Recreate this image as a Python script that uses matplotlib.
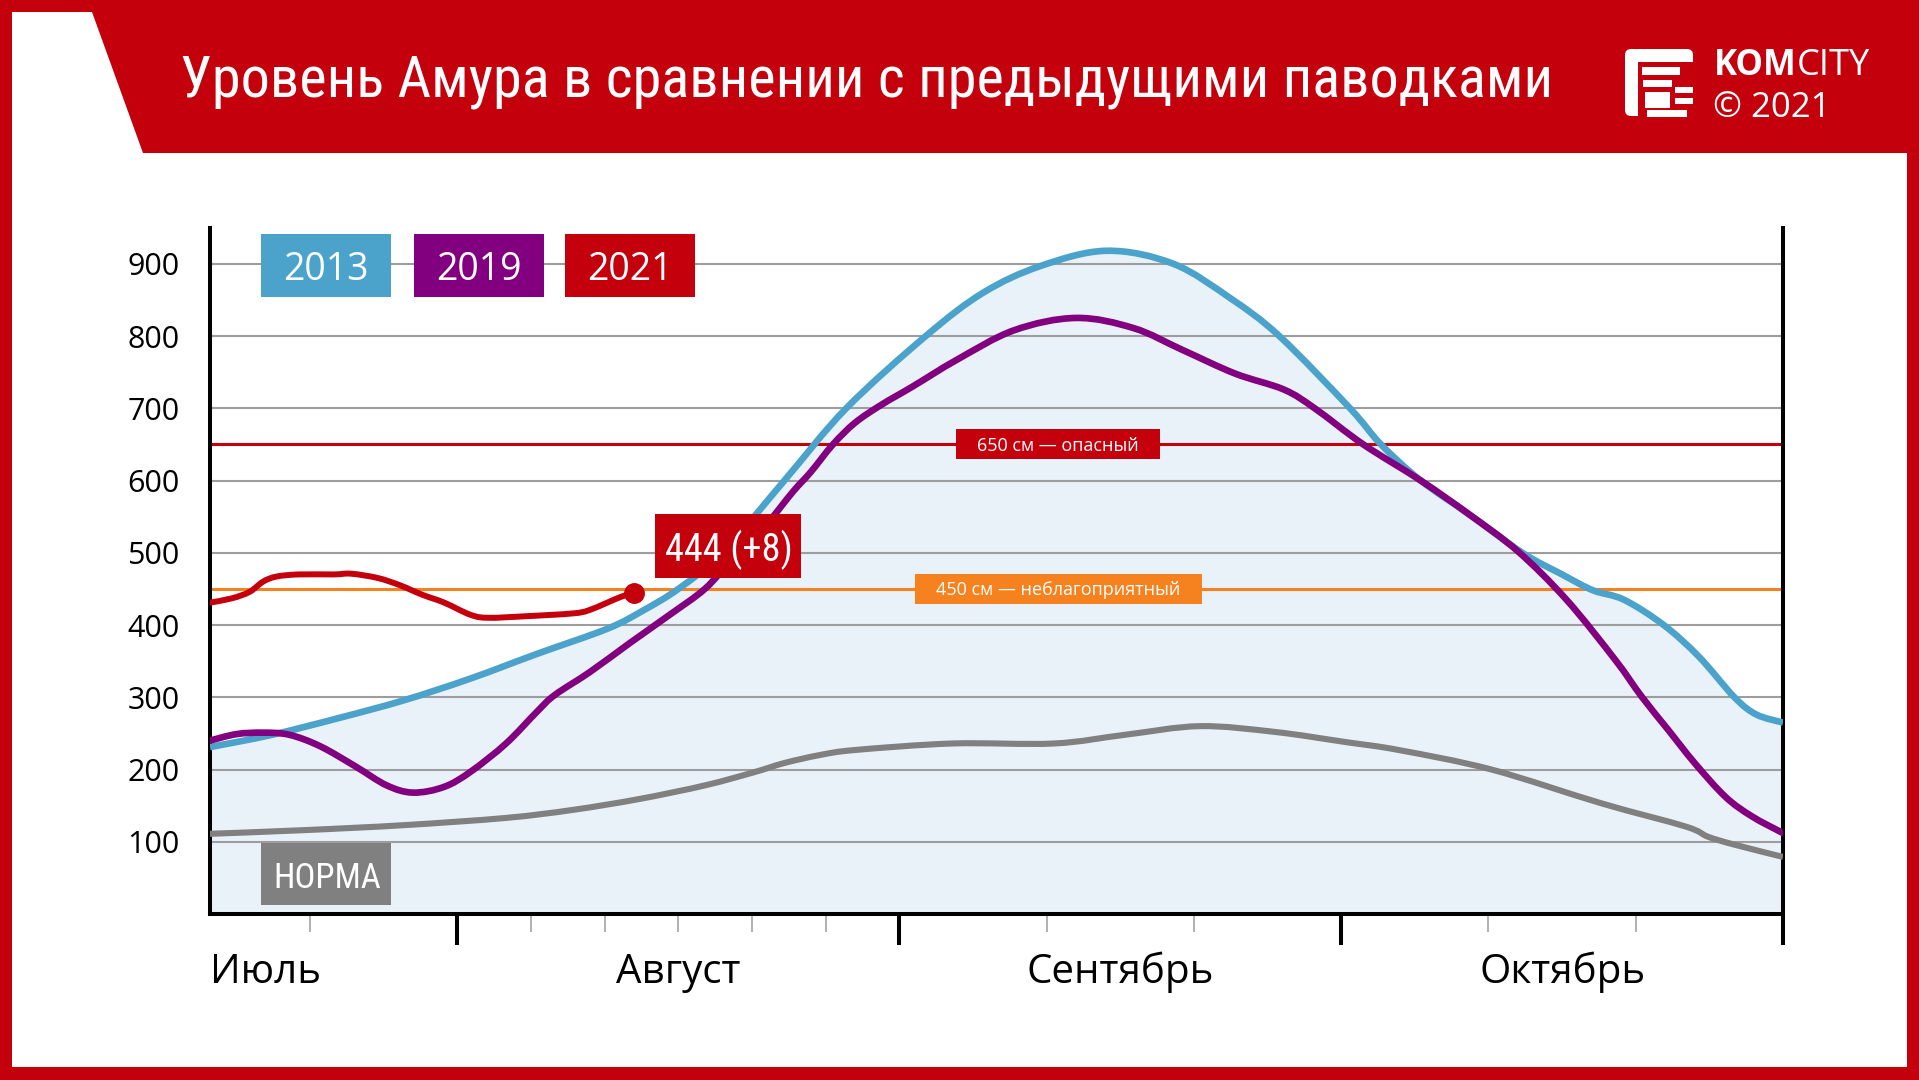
import matplotlib
matplotlib.use('Agg')
import numpy as np
import matplotlib.pyplot as plt
from matplotlib.patches import Polygon, Rectangle, FancyBboxPatch, PathPatch
from matplotlib.path import Path

W, H, DPI = 1919, 1080, 100

# ---------------- data ----------------
title = "Уровень Амура в сравнении с предыдущими паводками"
months = ["Июль", "Август", "Сентябрь", "Октябрь"]
month_ticks = [1, 2, 3, 4]                       # 1 = 1 Aug, 2 = 1 Sep, 3 = 1 Oct, 4 = 1 Nov
minor_ticks = [0.6667, 1.1667, 1.3333, 1.5, 1.6667, 1.8333, 2.3333, 2.6667, 3.3333, 3.6667]
yticks = [100, 200, 300, 400, 500, 600, 700, 800, 900]

series_names = ["2013", "2019", "2021"]
norm_name = "НОРМА"

x2013 = [0.44, 0.58, 0.73, 0.88, 1.03, 1.18, 1.34, 1.42, 1.50, 1.60, 1.74, 1.88, 2.06, 2.19, 2.32,
         2.47, 2.62, 2.75, 2.86, 3.02, 3.09, 3.18, 3.29, 3.41, 3.50, 3.57, 3.64, 3.73, 3.81, 3.89,
         3.94, 4.00]
y2013 = [231, 248, 271, 296, 326, 360, 395, 420, 450, 500, 600, 700, 800, 860, 897,
         918, 900, 852, 800, 700, 650, 600, 553, 500, 470, 448, 435, 400, 356, 300,
         276, 265]

x2019 = [0.44, 0.50, 0.56, 0.62, 0.69, 0.77, 0.84, 0.90, 0.97, 1.03, 1.11, 1.18, 1.22, 1.30, 1.39,
         1.48, 1.56, 1.62, 1.70, 1.76, 1.80, 1.85, 1.90, 1.96, 2.03, 2.13, 2.26, 2.40, 2.53, 2.64,
         2.76, 2.87, 2.94, 3.05, 3.18, 3.29, 3.40, 3.51, 3.62, 3.68, 3.74, 3.80, 3.87, 3.93, 4.00]
y2019 = [240, 249, 251, 248, 232, 204, 178, 168, 176, 197, 236, 280, 303, 335, 375,
         414, 450, 490, 540, 585, 612, 650, 680, 705, 730, 767, 808, 825, 811, 781,
         748, 726, 700, 650, 600, 553, 502, 435, 352, 301, 255, 209, 162, 135, 112]

x2021 = [0.44, 0.49, 0.53, 0.56, 0.59, 0.64, 0.72, 0.76, 0.82, 0.87, 0.92, 0.97, 1.03, 1.07,
         1.15, 1.26, 1.30, 1.37, 1.40]
y2021 = [431, 437, 446, 460, 467, 470, 470, 471, 465, 455, 442, 431, 414, 410,
         412, 416, 421, 439, 444]

x_norm = [0.44, 0.65, 0.88, 1.11, 1.26, 1.41, 1.56, 1.67, 1.74, 1.82, 1.90, 2.12, 2.35, 2.51, 2.68,
          2.85, 3.01, 3.13, 3.34, 3.59, 3.78, 3.83, 3.89, 4.00]
y_norm = [111, 116, 123, 133, 144, 159, 178, 196, 209, 220, 227, 236, 236, 248, 260,
          252, 238, 227, 200, 153, 121, 107, 96, 79]

last_label = "444 (+8)"
thresholds = [650, 450]
threshold_labels = ["650 см — опасный", "450 см — неблагоприятный"]

# ---------------- styles ----------------
RED = '#c3000c'
BLUE = '#4ba3cc'
PURPLE = '#82007f'
ORANGE = '#f5821f'
GRAY = '#808080'
FILL = '#eaf2f9'
GRID = '#9d9d9d'
NARROW = ['Roboto Condensed', 'Liberation Sans Narrow', 'DejaVu Sans']
SANS = ['Open Sans', 'DejaVu Sans']


def smooth_path(xs, ys, base=None):
    """Cubic Catmull-Rom path through the given points (drawn in data coords)."""
    P = np.column_stack([xs, ys]).astype(float)
    n = len(P)
    verts = [P[0]]
    codes = [Path.MOVETO]
    for i in range(n - 1):
        p0 = P[i - 1] if i > 0 else P[i]
        p1, p2 = P[i], P[i + 1]
        p3 = P[i + 2] if i + 2 < n else P[i + 1]
        verts += [p1 + (p2 - p0) / 6.0, p2 - (p3 - p1) / 6.0, p2]
        codes += [Path.CURVE4] * 3
    if base is not None:
        verts += [(P[-1, 0], base), (P[0, 0], base), P[0]]
        codes += [Path.LINETO, Path.LINETO, Path.CLOSEPOLY]
    return Path(verts, codes)


fig = plt.figure(figsize=(W / DPI, H / DPI), dpi=DPI, facecolor=RED)

# background layer (pixel coords, y down)
bg = fig.add_axes([0, 0, 1, 1], zorder=-10)
bg.set_xlim(0, W); bg.set_ylim(H, 0); bg.axis('off')
bg.add_patch(Polygon([(12, 12), (92, 12), (143, 153), (1907, 153), (1907, 1067), (12, 1067)],
                     closed=True, facecolor='white', edgecolor='none'))

# main chart
ax = fig.add_axes([210 / W, (H - 914) / H, (1783 - 210) / W, (914 - 228) / H], zorder=0)
ax.set_facecolor('none')
ax.set_xlim(0.44, 4.0)
ax.set_ylim(0, 949.5)
ax.set_autoscale_on(False)

ax.add_patch(PathPatch(smooth_path(x2013, y2013, base=0), facecolor=FILL, edgecolor='none', zorder=0.3))
ax.set_axisbelow(True)
ax.grid(axis='y', color=GRID, lw=1.5)
ax.grid(axis='x', visible=False)

ax.axhline(thresholds[0], color=RED, lw=2.2, zorder=2)
ax.axhline(thresholds[1], color=ORANGE, lw=2.2, zorder=2)

for xs, ys, col, lw, cap, z in [(x_norm, y_norm, GRAY, 4.4, 'butt', 3.0),
                                (x2013, y2013, BLUE, 4.8, 'butt', 3.1),
                                (x2019, y2019, PURPLE, 4.8, 'round', 3.2),
                                (x2021, y2021, RED, 4.3, 'round', 3.3)]:
    ax.add_patch(PathPatch(smooth_path(xs, ys), facecolor='none', edgecolor=col, lw=lw,
                           capstyle=cap, joinstyle='round', zorder=z))
ax.plot([x2021[-1]], [y2021[-1]], 'o', color=RED, ms=14, zorder=3.4)

for s in ['left', 'right', 'bottom']:
    ax.spines[s].set_color('black')
    ax.spines[s].set_linewidth(2.9)
ax.spines['top'].set_visible(False)

ax.set_xticks(month_ticks)
ax.set_xticklabels([''] * len(month_ticks))
ax.set_xticks(minor_ticks, minor=True)
ax.tick_params(axis='x', which='major', length=22, width=2.9, color='black', direction='out')
ax.tick_params(axis='x', which='minor', length=13, width=1.1, color=GRID, direction='out')

ax.set_yticks(yticks)
ax.set_yticklabels([str(v) for v in yticks], fontfamily=SANS, fontsize=22)
ax.tick_params(axis='y', length=0, pad=22)

# month labels
ax.text(0.44, -0.101, months[0], transform=ax.get_xaxis_transform(), ha='left', va='baseline',
        fontfamily=SANS, fontsize=29, color='black')
for i, mname in enumerate(months[1:]):
    ax.text(month_ticks[i] + 0.5, -0.101, mname, transform=ax.get_xaxis_transform(), ha='center',
            va='baseline', fontfamily=SANS, fontsize=29, color='black')

# foreground layer
fg = fig.add_axes([0, 0, 1, 1], zorder=10)
fg.set_xlim(0, W); fg.set_ylim(H, 0); fg.axis('off')

renderer = fig.canvas.get_renderer()


def fitted_text(x, center_y, s, max_w, size, ha='center', family=NARROW, **kw):
    t = fg.text(x, center_y, s, ha=ha, va='baseline', color='white', fontfamily=family,
                fontsize=size, fontstretch='condensed', **kw)
    w = t.get_window_extent(renderer).width
    if w > max_w:
        size = size * max_w / w
        t.set_fontsize(size)
    cap = 0.72 * size * DPI / 72.0
    t.set_y(center_y + cap / 2.0)
    return t


# title
fitted_text(180, 76, title, 1375, 52, ha='left')

# logo
fg.add_patch(FancyBboxPatch((1625, 49), 68, 67, boxstyle='round,pad=0,rounding_size=6',
                            facecolor='white', edgecolor='none'))
fg.add_patch(Rectangle((1638, 62), 57, 55, facecolor=RED, edgecolor='none'))
for (x0, y0, x1, y1) in [(1641.7, 67.3, 1680, 75), (1643, 80, 1671.7, 86.7), (1645, 91.7, 1670, 108.3),
                         (1675, 87.3, 1693, 93.3), (1675, 98.3, 1693, 104), (1646.7, 110, 1686.7, 117.3)]:
    fg.add_patch(Rectangle((x0, y0), x1 - x0, y1 - y0, facecolor='white', edgecolor='none'))
t_kom = fg.text(1714, 75, "KOM", ha='left', va='baseline', color='white', fontfamily=SANS,
                fontsize=25, fontweight='bold')
fg.annotate("CITY", xy=(1, 0), xycoords=t_kom, xytext=(0, 0), textcoords='offset points',
            ha='left', va='bottom', color='white', fontfamily=SANS, fontsize=26)
fg.text(1713, 117, "© 2021", ha='left', va='baseline', color='white', fontfamily=SANS, fontsize=25)

# legend boxes
legend_colors = [BLUE, PURPLE, RED]
legend_x = [261, 414, 565]
for name, col, lx in zip(series_names, legend_colors, legend_x):
    fg.add_patch(Rectangle((lx, 234), 130, 63, facecolor=col, edgecolor='none'))
    fg.text(lx + 65, 280, name, ha='center', va='baseline', color='white', fontfamily=SANS, fontsize=27)

# norm label
fg.add_patch(Rectangle((261, 843), 130, 62, facecolor=GRAY, edgecolor='none'))
fitted_text(327, 875, norm_name, 110, 25)

# last value label
fg.add_patch(Rectangle((655, 514), 146, 64, facecolor=RED, edgecolor='none'))
fitted_text(729, 547, last_label, 128, 30)

# threshold labels
for val, lab, col, (bx0, bx1) in zip(thresholds, threshold_labels, [RED, ORANGE],
                                     [(956, 1160), (915, 1202)]):
    py = H - ax.transData.transform((2.0, val))[1]
    fg.add_patch(Rectangle((bx0, py - 15), bx1 - bx0, 30, facecolor=col, edgecolor='none'))
    fg.text((bx0 + bx1) / 2, py + 6.5, lab, ha='center', va='baseline', color='white',
            fontfamily=SANS, fontsize=13)

fig.savefig('out.png', dpi=DPI, facecolor=RED)
